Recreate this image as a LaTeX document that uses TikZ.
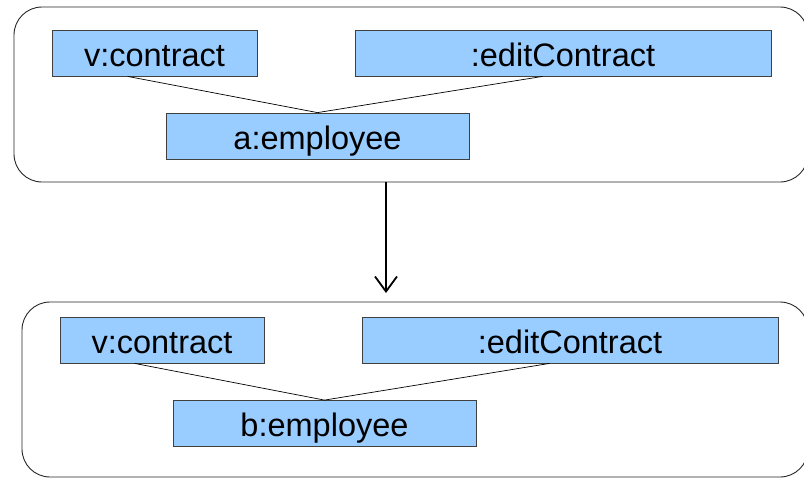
\documentclass[tikz,border=0pt]{standalone}
\usepackage{fontspec}
\setmainfont{Liberation Sans}
\usetikzlibrary{arrows.meta}
\definecolor{objfill}{HTML}{99CCFF}
\begin{document}
\begin{tikzpicture}[x=1pt,y=-1pt,
  obj/.style={draw=black!75, fill=objfill, line width=0.8pt, inner sep=0pt,
    minimum height=46pt, text height=26pt, text depth=0pt,
    font=\fontsize{32.5}{38}\selectfont},
  frame/.style={draw=black!85, line width=0.9pt, rounded corners=28pt,
    minimum height=175pt, inner sep=0pt},
  link/.style={draw=black, line width=0.7pt},
  step arrow/.style={draw=black, line width=1.8pt,
    -{Straight Barb[length=15pt,width=22pt,line width=1.8pt]}}]
\useasboundingbox (0,0) rectangle (804,485);

% upper state
\node[frame, minimum width=794pt] (top) at (411,94.5) {};
\node[obj, minimum width=205pt] (vc1) at (154.5,53) {v:contract};
\node[obj, minimum width=416pt] (ec1) at (563,53) {:editContract};
\node[obj, minimum width=303pt] (ae)  at (317.5,136) {a:employee};
\draw[link] ([xshift=76pt]vc1.south west) -- (ae.north);
\draw[link] ([xshift=188pt]ec1.south west) -- (ae.north);

% lower state
\node[frame, minimum width=786pt] (bot) at (415,389.5) {};
\node[obj, minimum width=204pt] (vc2) at (162,340) {v:contract};
\node[obj, minimum width=416pt] (ec2) at (570,340) {:editContract};
\node[obj, minimum width=303pt] (be)  at (324.5,423.5) {b:employee};
\draw[link] ([xshift=75pt]vc2.south west) -- (be.north);
\draw[link] ([xshift=188pt]ec2.south west) -- (be.north);

% transition
\coordinate (tip) at (386,293);
\draw[step arrow] (tip |- top.south) -- (tip);
\end{tikzpicture}
\end{document}
